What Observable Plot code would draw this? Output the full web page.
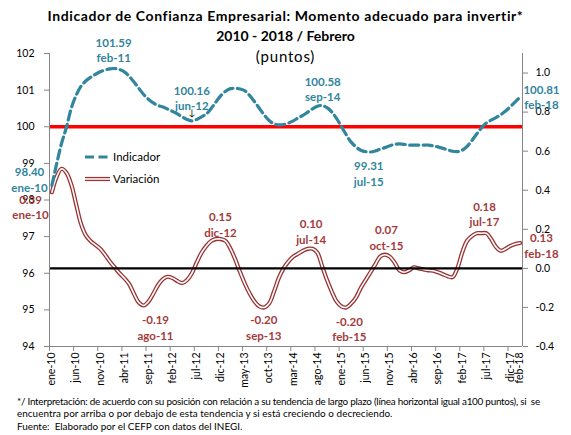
<!DOCTYPE html>
<html><head><meta charset="utf-8">
<script src="https://cdn.jsdelivr.net/npm/d3@7"></script>
<script src="https://cdn.jsdelivr.net/npm/@observablehq/plot@0.6"></script>
<style>
body{margin:0;background:#fff;font-family:Lato,"Open Sans",sans-serif;color:#000;}
#wrap{position:relative;width:571px;height:435px;overflow:hidden;background:#fff;}
.t{position:absolute;left:0;width:571px;text-align:center;z-index:3;white-space:nowrap;}
#t1{top:7px;font-size:14px;font-weight:bold;letter-spacing:0.6px;}
#t2{top:27px;font-size:14px;font-weight:bold;}
#t3{top:47px;font-size:15px;letter-spacing:0.8px;}
.leg{position:absolute;left:84px;font-size:11.5px;z-index:3;display:flex;align-items:center;}
.leg svg{margin-right:2px;}
#foot{position:absolute;left:17px;top:395px;font-size:9.9px;line-height:12.3px;white-space:nowrap;}
#foot .c1{letter-spacing:-0.25px;}
#foot .c2{letter-spacing:0.05px;}
#chart{position:absolute;left:0;top:0;}
</style>
</head><body>
<div id="wrap">
  <div class="t" id="t1">Indicador de Confianza Empresarial: Momento adecuado para invertir*</div>
  <div class="t" id="t2">2010 - 2018 / Febrero</div>
  <div class="t" id="t3">(puntos)</div>
  <div id="chart"></div>
  <div class="leg" style="top:150px"><svg width="27" height="12"><line x1="1" x2="26" y1="6" y2="6" stroke="#31859c" stroke-width="3.2" stroke-dasharray="9,4.5"/></svg>Indicador</div>
  <div class="leg" style="top:172px"><svg width="27" height="12"><line x1="1" x2="26" y1="6" y2="6" stroke="#993333" stroke-width="4.2"/><line x1="1" x2="26" y1="6" y2="6" stroke="#fff" stroke-width="1.6"/></svg>Variación</div>
  <div id="foot">
    <div class="c1">*/ Interpretación: de acuerdo con su posición con relación a su tendencia de largo plazo (línea horizontal igual a100 puntos), si &nbsp;se</div>
    <div class="c2">encuentra por arriba o por debajo de esta tendencia y si está creciendo o decreciendo.</div>
    <div>Fuente: &nbsp;Elaborado por el CEFP con datos del INEGI.</div>
  </div>
</div>
<script>
// ---- Data (monthly, ene-10 .. feb-18; index 0..97) ----
const indicador = [
  98.40, 99.00, 99.55, 99.98, 100.50, 100.85, 101.10, 101.25, 101.35, 101.43, 101.50, 101.55,
  101.58, 101.59, 101.56, 101.50, 101.38, 101.22, 101.05, 100.88, 100.75, 100.65, 100.58, 100.54,
  100.48, 100.42, 100.35, 100.27, 100.20, 100.16, 100.20, 100.27, 100.35, 100.50, 100.68, 100.85,
  100.97, 101.04, 101.05, 101.03, 100.98, 100.85, 100.68, 100.50, 100.32, 100.17, 100.08, 100.05,
  100.06, 100.10, 100.16, 100.24, 100.31, 100.40, 100.49, 100.56, 100.58, 100.52, 100.40, 100.22,
  100.00, 99.78, 99.58, 99.45, 99.36, 99.32, 99.31, 99.34, 99.39, 99.43, 99.48, 99.52,
  99.53, 99.52, 99.50, 99.50, 99.50, 99.50, 99.50, 99.48, 99.45, 99.41, 99.37, 99.33,
  99.32, 99.36, 99.46, 99.62, 99.80, 99.97, 100.10, 100.18, 100.25, 100.33, 100.43, 100.55,
  100.68, 100.81
];
const variacion = [
  0.39, 0.47, 0.51, 0.49, 0.43, 0.33, 0.23, 0.17, 0.14, 0.12, 0.10, 0.07,
  0.035, 0.005, -0.025, -0.05, -0.08, -0.13, -0.175, -0.19, -0.17, -0.13, -0.085, -0.055,
  -0.043, -0.05, -0.065, -0.075, -0.06, -0.025, 0.03, 0.08, 0.115, 0.14, 0.15, 0.15,
  0.14, 0.10, 0.045, -0.02, -0.08, -0.13, -0.17, -0.195, -0.20, -0.18, -0.12, -0.05,
  0.00, 0.035, 0.06, 0.075, 0.09, 0.10, 0.10, 0.08, 0.01, -0.06, -0.12, -0.17,
  -0.195, -0.20, -0.18, -0.15, -0.10, -0.06, -0.02, 0.02, 0.06, 0.07, 0.06, 0.03,
  -0.01, -0.02, -0.01, 0.005, 0.00, -0.005, -0.01, -0.012, -0.02, -0.03, -0.04, -0.045,
  0.00, 0.08, 0.14, 0.165, 0.18, 0.18, 0.18, 0.15, 0.11, 0.09, 0.10, 0.115,
  0.125, 0.13
];
const tickIndex = [0,5,10,15,20,25,30,35,40,45,50,55,60,65,70,75,80,85,90,95,97];
const tickLabels = ["ene-10","jun-10","nov-10","abr-11","sep-11","feb-12","jul-12","dic-12","may-13","oct-13",
  "mar-14","ago-14","ene-15","jun-15","nov-15","abr-16","sep-16","feb-17","jul-17","dic-17","feb-18"];
const leftTicks = [94,95,96,97,98,99,100,101,102];
const rightTicks = [-0.4,-0.2,0.0,0.2,0.4,0.6,0.8,1.0];
const referencia = [100];   // long-term trend (left axis)
const ceroVar = [0];        // zero line (right axis)

// Annotated points
const annIndInd = [0, 13, 29, 56, 66, 97];
const annIndLab = ["ene-10","feb-11","jun-12","sep-14","jul-15","feb-18"];
const annVarInd = [0, 19, 35, 44, 54, 61, 69, 90, 97];
const annVarLab = ["ene-10","ago-11","dic-12","sep-13","jul-14","feb-15","oct-15","jul-17","feb-18"];

// label offsets (style only)
const indOff = [[-22.4,-6.2],[-1,-18.8],[0,-23.4],[0.5,-17],[-1.7,21],[21.4,-0.8]];
const varOff = [[-21.4,14.3],[11.9,21.7],[-0.4,-15.1],[-0.5,19.8],[-1.4,-18],[3,21],[1.5,-17.5],[-1.8,-19.7],[21.4,2.2]];

// ---- mapping of right axis onto left axis ----
const toL = v => 94 + (v + 0.4) * 16 / 3;
const fromL = y => (y - 94) * 3 / 16 - 0.4;

const rows = indicador.map((d, i) => ({i, ind: d, varL: toL(variacion[i])}));
const boundaries = tickIndex.slice(0, 20).map(i => i - 0.5);

const TEAL = "#31859c", DRED = "#993333", GRID = "#868686";

const annMarks = [];
annIndInd.forEach((idx, k) => {
  annMarks.push(Plot.text([idx], {x: d => d, y: d => indicador[d],
    text: d => indicador[d].toFixed(2) + "\n" + annIndLab[k],
    dx: indOff[k][0], dy: indOff[k][1], fill: TEAL, fontWeight: "bold", fontSize: 11.5, lineHeight: 1.35}));
});
annVarInd.forEach((idx, k) => {
  annMarks.push(Plot.text([idx], {x: d => d, y: d => toL(variacion[d]),
    text: d => variacion[d].toFixed(2) + "\n" + annVarLab[k],
    dx: varOff[k][0], dy: varOff[k][1], fill: "#a33b3b", fontWeight: "bold", fontSize: 11.5, lineHeight: 1.35}));
});

const chart = Plot.plot({
  width: 571, height: 398,
  marginTop: 53, marginBottom: 52, marginLeft: 49, marginRight: 49,
  style: {fontFamily: "Lato, sans-serif", fontSize: "10.5px", background: "transparent", color: "#000", overflow: "visible"},
  x: {domain: [-0.5, 97.5], axis: null},
  y: {domain: [94, 102], axis: null},
  marks: [
    Plot.ruleY(referencia, {stroke: "#ff0000", strokeWidth: 3.6}),
    Plot.line(rows, {x: "i", y: "varL", curve: "catmull-rom", stroke: DRED, strokeWidth: 4.2}),
    Plot.line(rows, {x: "i", y: "varL", curve: "catmull-rom", stroke: "#fff", strokeWidth: 1.6}),
    Plot.ruleY(ceroVar.map(toL), {stroke: "#000", strokeWidth: 2.4}),
    Plot.line(rows, {x: "i", y: "ind", curve: "catmull-rom", stroke: TEAL, strokeWidth: 3.2, strokeDasharray: "9,4.5"}),
    Plot.ruleX([-0.5, 97.5], {stroke: GRID}),
    Plot.ruleY([94], {stroke: GRID}),
    Plot.axisY({anchor: "left", ticks: leftTicks, tickFormat: d => String(d), tickSize: 5, tickPadding: 10, label: null, stroke: GRID, fill: "#000"}),
    Plot.axisY({anchor: "right", ticks: rightTicks.map(toL), tickFormat: d => fromL(d).toFixed(1), tickSize: 5, tickPadding: 8, label: null, stroke: GRID, fill: "#000"}),
    Plot.axisX({anchor: "bottom", ticks: boundaries, tickFormat: () => "", tickSize: 5, label: null, stroke: GRID}),
    Plot.axisX({anchor: "bottom", ticks: tickIndex, tickFormat: d => tickLabels[tickIndex.indexOf(d)], tickSize: 0, tickPadding: 6, tickRotate: -90, label: null, fill: "#000"}),
    Plot.text([29], {x: d => d, y: d => indicador[d], text: () => "↓", dy: -8, fontSize: 9, fill: "#000"}),
    ...annMarks
  ]
});
document.getElementById("chart").appendChild(chart);
</script>
</body></html>
